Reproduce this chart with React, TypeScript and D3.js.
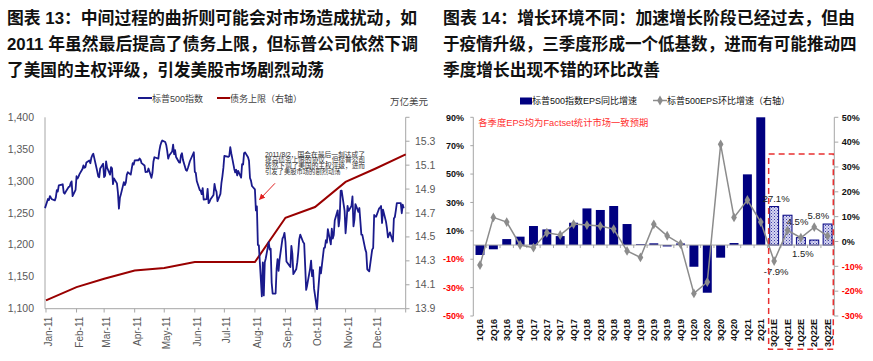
import React from 'react';
import * as d3 from 'd3';

const FONT = "'Liberation Sans', 'Noto Sans CJK SC', sans-serif";

const titleLeft = [
  '图表 13：中间过程的曲折则可能会对市场造成扰动，如',
  '2011 年虽然最后提高了债务上限，但标普公司依然下调',
  '了美国的主权评级，引发美股市场剧烈动荡',
];
const titleRight = [
  '图表 14：增长环境不同：加速增长阶段已经过去，但由',
  '于疫情升级，三季度形成一个低基数，进而有可能推动四',
  '季度增长出现不错的环比改善',
];
const titleLeftWidths = [410, 411, 0];
const titleRightWidths = [412, 413.5, 0];

// ---------- Left chart data ----------
const spxDates = [
  '2010-12-31',
  '2011-01-03','2011-01-04','2011-01-05','2011-01-06','2011-01-07','2011-01-10','2011-01-11','2011-01-12','2011-01-13','2011-01-14','2011-01-18','2011-01-19','2011-01-20','2011-01-21','2011-01-24','2011-01-25','2011-01-26','2011-01-27','2011-01-28','2011-01-31',
  '2011-02-01','2011-02-02','2011-02-03','2011-02-04','2011-02-07','2011-02-08','2011-02-09','2011-02-10','2011-02-11','2011-02-14','2011-02-15','2011-02-16','2011-02-17','2011-02-18','2011-02-22','2011-02-23','2011-02-24','2011-02-25','2011-02-28',
  '2011-03-01','2011-03-02','2011-03-03','2011-03-04','2011-03-07','2011-03-08','2011-03-09','2011-03-10','2011-03-11','2011-03-14','2011-03-15','2011-03-16','2011-03-17','2011-03-18','2011-03-21','2011-03-22','2011-03-23','2011-03-24','2011-03-25','2011-03-28','2011-03-29','2011-03-30','2011-03-31',
  '2011-04-01','2011-04-04','2011-04-05','2011-04-06','2011-04-07','2011-04-08','2011-04-11','2011-04-12','2011-04-13','2011-04-14','2011-04-15','2011-04-18','2011-04-19','2011-04-20','2011-04-21','2011-04-25','2011-04-26','2011-04-27','2011-04-28','2011-04-29',
  '2011-05-02','2011-05-03','2011-05-04','2011-05-05','2011-05-06','2011-05-09','2011-05-10','2011-05-11','2011-05-12','2011-05-13','2011-05-16','2011-05-17','2011-05-18','2011-05-19','2011-05-20','2011-05-23','2011-05-24','2011-05-25','2011-05-26','2011-05-27','2011-05-31',
  '2011-06-01','2011-06-02','2011-06-03','2011-06-06','2011-06-07','2011-06-08','2011-06-09','2011-06-10','2011-06-13','2011-06-14','2011-06-15','2011-06-16','2011-06-17','2011-06-20','2011-06-21','2011-06-22','2011-06-23','2011-06-24','2011-06-27','2011-06-28','2011-06-29','2011-06-30',
  '2011-07-01','2011-07-05','2011-07-06','2011-07-07','2011-07-08','2011-07-11','2011-07-12','2011-07-13','2011-07-14','2011-07-15','2011-07-18','2011-07-19','2011-07-20','2011-07-21','2011-07-22','2011-07-25','2011-07-26','2011-07-27','2011-07-28','2011-07-29',
  '2011-08-01','2011-08-02','2011-08-03','2011-08-04','2011-08-05','2011-08-08','2011-08-09','2011-08-10','2011-08-11','2011-08-12','2011-08-15','2011-08-16','2011-08-17','2011-08-18','2011-08-19','2011-08-22','2011-08-23','2011-08-24','2011-08-25','2011-08-26','2011-08-29','2011-08-30','2011-08-31',
  '2011-09-01','2011-09-02','2011-09-06','2011-09-07','2011-09-08','2011-09-09','2011-09-12','2011-09-13','2011-09-14','2011-09-15','2011-09-16','2011-09-19','2011-09-20','2011-09-21','2011-09-22','2011-09-23','2011-09-26','2011-09-27','2011-09-28','2011-09-29','2011-09-30',
  '2011-10-03','2011-10-04','2011-10-05','2011-10-06','2011-10-07','2011-10-10','2011-10-11','2011-10-12','2011-10-13','2011-10-14','2011-10-17','2011-10-18','2011-10-19','2011-10-20','2011-10-21','2011-10-24','2011-10-25','2011-10-26','2011-10-27','2011-10-28','2011-10-31',
  '2011-11-01','2011-11-02','2011-11-03','2011-11-04','2011-11-07','2011-11-08','2011-11-09','2011-11-10','2011-11-11','2011-11-14','2011-11-15','2011-11-16','2011-11-17','2011-11-18','2011-11-21','2011-11-22','2011-11-23','2011-11-25','2011-11-28','2011-11-29','2011-11-30',
  '2011-12-01','2011-12-02','2011-12-05','2011-12-06','2011-12-07','2011-12-08','2011-12-09','2011-12-12','2011-12-13','2011-12-14','2011-12-15','2011-12-16','2011-12-19','2011-12-20','2011-12-21','2011-12-22','2011-12-23','2011-12-27','2011-12-28','2011-12-29','2011-12-30',
];
const spxClose = [
  1257.64,
  1271.87,1270.2,1276.56,1273.85,1271.5,1269.75,1274.48,1285.96,1283.76,1293.24,1295.02,1281.92,1280.26,1283.35,1290.84,1291.18,1296.63,1299.54,1276.34,1286.12,
  1307.59,1304.03,1307.1,1310.87,1319.05,1324.57,1320.88,1321.87,1329.15,1332.32,1328.01,1336.32,1340.43,1343.01,1315.44,1307.4,1306.1,1319.88,1327.22,
  1306.33,1308.44,1330.97,1321.15,1310.13,1321.82,1320.02,1295.11,1304.28,1296.39,1281.87,1256.88,1273.72,1279.21,1298.38,1293.77,1297.54,1309.66,1313.8,1310.19,1319.44,1328.26,1325.83,
  1332.41,1332.87,1332.63,1335.54,1333.51,1328.17,1324.46,1314.16,1314.41,1314.52,1319.68,1305.14,1312.62,1330.36,1337.38,1335.25,1347.24,1355.66,1360.48,1363.61,
  1361.22,1356.62,1347.32,1335.1,1340.2,1346.29,1357.16,1342.08,1348.65,1337.77,1329.47,1328.98,1340.68,1343.6,1333.27,1317.37,1316.28,1320.47,1325.69,1331.1,1345.2,
  1314.55,1312.94,1300.16,1286.17,1284.94,1279.56,1289.0,1270.98,1271.83,1287.87,1265.42,1267.64,1271.5,1278.36,1295.52,1287.14,1283.5,1268.45,1280.1,1296.67,1307.41,1320.64,
  1339.67,1337.88,1339.22,1353.22,1343.8,1319.49,1313.64,1317.72,1308.87,1316.14,1305.44,1326.73,1325.84,1343.8,1345.02,1337.43,1331.94,1304.89,1300.67,1292.28,
  1286.94,1254.05,1260.34,1200.07,1199.38,1119.46,1172.53,1120.76,1172.64,1178.81,1204.49,1192.76,1193.89,1140.65,1123.53,1123.82,1162.35,1177.6,1159.27,1176.8,1210.08,1212.92,1218.89,
  1204.42,1173.97,1165.24,1198.62,1185.9,1154.23,1162.27,1172.87,1188.68,1209.11,1216.01,1204.09,1202.09,1166.76,1129.56,1136.43,1162.95,1175.38,1151.06,1160.4,1131.42,
  1099.23,1123.95,1144.03,1164.97,1155.46,1194.89,1195.54,1207.25,1203.66,1224.58,1200.86,1225.38,1209.88,1215.39,1238.25,1254.19,1229.05,1242.0,1284.59,1285.09,1253.3,
  1218.28,1237.9,1261.15,1253.23,1261.12,1275.92,1229.1,1239.7,1263.85,1251.78,1257.81,1236.91,1216.13,1215.65,1192.98,1188.04,1161.79,1158.67,1192.55,1195.19,1246.96,
  1244.58,1244.28,1257.08,1258.47,1261.01,1234.35,1255.19,1236.47,1225.73,1211.82,1215.75,1219.66,1205.35,1241.3,1243.72,1254.0,1265.33,1265.43,1249.64,1263.02,1257.6,
];
const debtDates = ['2011-01-01','2011-02-01','2011-03-01','2011-04-01','2011-05-01','2011-06-01','2011-07-01','2011-08-01','2011-09-01','2011-10-01','2011-11-01','2011-12-01','2012-01-01'];
const debtValues = [13.97, 14.08, 14.15, 14.22, 14.24, 14.29, 14.29, 14.29, 14.66, 14.75, 14.96, 15.07, 15.19];
const leftTicks = [1100, 1150, 1200, 1250, 1300, 1350, 1400];
const leftTickLabels = ['1,100', '1,150', '1,200', '1,250', '1,300', '1,350', '1,400'];
const debtTicks = [13.9, 14.1, 14.3, 14.5, 14.7, 14.9, 15.1, 15.3, 15.5];
const monthStarts = ['2011-01-01','2011-02-01','2011-03-01','2011-04-01','2011-05-01','2011-06-01','2011-07-01','2011-08-01','2011-09-01','2011-10-01','2011-11-01','2011-12-01','2012-01-01'];
const monthLabels = ['Jan-11','Feb-11','Mar-11','Apr-11','May-11','Jun-11','Jul-11','Aug-11','Sep-11','Oct-11','Nov-11','Dec-11'];
const annotationLines = [
  '2011/8/2，国会在最后一刻达成了',
  '提高债务上限的协议，但标普公司',
  '依然下调了美国的主权评级，进而',
  '引发了美股市场的剧烈动荡',
];

// ---------- Right chart data ----------
const quarters = ['1Q16','2Q16','3Q16','4Q16','1Q17','2Q17','3Q17','4Q17','1Q18','2Q18','3Q18','4Q18','1Q19','2Q19','3Q19','4Q19','1Q20','2Q20','3Q20','4Q20','1Q21','2Q21','3Q21E','4Q21E','1Q22E','2Q22E','3Q22E'];
const epsYoY = [-7.0,-3.0,4.2,5.9,13.4,11.0,6.3,15.7,25.8,24.7,27.5,14.8,0.6,1.2,-1.0,1.1,-15.3,-33.6,-8.9,1.4,49.8,90.0,27.1,21.0,5.2,3.5,14.8];
const epsQoQ = [-9.5,9.7,7.8,-1.4,-2.5,3.5,2.6,7.0,6.6,6.2,5.0,-3.8,-6.4,6.9,2.3,-1.0,-20.9,-16.3,39.1,9.7,16.7,7.8,-7.9,4.5,1.5,5.8,2.2];
const barTicks = [-50, -30, -10, 10, 30, 50, 70, 90];
const lineTicks = [-30, -20, -10, 0, 10, 20, 30, 40, 50];
// labels: [quarter, series, dx, dy]
const dataLabels: [string, 'bar' | 'line', number, number][] = [
  ['3Q21E', 'bar', 2, -5],
  ['3Q21E', 'line', 2, 14],
  ['4Q21E', 'line', 10, -5],
  ['1Q22E', 'line', 2, 19],
  ['2Q22E', 'line', 4, -8],
];

const parse = d3.timeParse('%Y-%m-%d');

export default function App() {
  // Left chart scales
  const xL = d3.scaleTime().domain([parse('2010-12-31')!, parse('2012-01-01')!]).range([45, 405.7]);
  const yL = d3.scaleLinear().domain([1100, 1400]).range([308.7, 117.3]);
  const yD = d3.scaleLinear().domain([13.9, 15.5]).range([308.7, 117.3]);
  const spx = spxDates.map((d, i) => ({ d: parse(d)!, v: spxClose[i] }));
  const debt = debtDates.map((d, i) => ({ d: parse(d)!, v: debtValues[i] }));
  const spxLine = d3.line<{ d: Date; v: number }>().x(p => xL(p.d)).y(p => yL(p.v))(spx)!;
  const debtLine = d3.line<{ d: Date; v: number }>().x(p => xL(p.d)).y(p => yD(p.v))(debt)!;

  // Right chart scales
  const xB = d3.scaleBand().domain(quarters).range([473.3, 834.3]).paddingInner(0.33).paddingOuter(0.165);
  const step = xB.step();
  const x0 = 473.3;
  const yB = d3.scaleLinear().domain([-50, 90]).range([316, 117.3]);
  const yQ = d3.scaleLinear().domain([-30, 50]).range([316, 117.3]);
  const cx = (q: string) => xB(q)! + xB.bandwidth() / 2;
  const qoqLine = d3.line<number>().x((_, i) => cx(quarters[i])).y(v => yQ(v))(epsQoQ)!;
  const diamond = d3.symbol().type(d3.symbolDiamond).size(28)()!;
  const firstE = quarters.findIndex(q => q.endsWith('E'));

  const gray = '#595959';
  const axisGray = '#a6a6a6';

  return (
    <svg width={873} height={361} style={{ position: 'absolute', left: 0, top: 0, background: '#fff' }} fontFamily={FONT}>
      <defs>
        <pattern id="dots" width={3} height={3} patternUnits="userSpaceOnUse">
          <rect width={3} height={3} fill="#d6d6f2" />
          <rect width={1} height={1} fill="#4040a8" />
          <rect x={1.5} y={1.5} width={1} height={1} fill="#6a6ac0" />
        </pattern>
        <marker id="arrow" viewBox="0 0 10 10" refX={9} refY={5} markerWidth={6} markerHeight={6} orient="auto">
          <path d="M0,0 L10,5 L0,10 z" fill="#e02020" />
        </marker>
      </defs>
      <rect width={873} height={361} fill="#fff" />

      {/* Titles */}
      {titleLeft.map((t, i) => (
        <text key={'tl' + i} x={7} y={24 + i * 26} fontSize={16.7} fontWeight="bold" fill="#111"
          {...(titleLeftWidths[i] ? { textLength: titleLeftWidths[i], lengthAdjust: 'spacingAndGlyphs' } : {})}>{t}</text>
      ))}
      {titleRight.map((t, i) => (
        <text key={'tr' + i} x={443} y={24 + i * 26} fontSize={16.7} fontWeight="bold" fill="#111"
          {...(titleRightWidths[i] ? { textLength: titleRightWidths[i], lengthAdjust: 'spacingAndGlyphs' } : {})}>{t}</text>
      ))}

      {/* ===== Left chart ===== */}
      <g>
        {/* legend */}
        <line x1={138} x2={152} y1={98} y2={98} stroke="#1a1a8c" strokeWidth={2} />
        <text x={152} y={101.5} fontSize={9} fill="#404040">标普500指数</text>
        <line x1={217} x2={230} y1={98} y2={98} stroke="#990000" strokeWidth={2} />
        <text x={230} y={101.5} fontSize={9} fill="#404040">债务上限（右轴）</text>
        <text x={390} y={105} fontSize={9.5} fill="#404040">万亿美元</text>

        {/* axes */}
        <line x1={45} x2={45} y1={117.3} y2={308.7} stroke={axisGray} />
        <line x1={405.7} x2={405.7} y1={117.3} y2={308.7} stroke={axisGray} />
        <line x1={45} x2={405.7} y1={308.7} y2={308.7} stroke={axisGray} />
        {leftTicks.map((t, i) => (
          <g key={'lt' + i}>
            <text x={34} y={yL(t) + 3.5} fontSize={10.5} fill={gray} textAnchor="end">{leftTickLabels[i]}</text>
          </g>
        ))}
        {debtTicks.map((t, i) => (
          <g key={'dt' + i}>
            <line x1={405.7} x2={409.5} y1={yD(t)} y2={yD(t)} stroke={axisGray} />
            {t < 15.4 && <text x={415} y={yD(t) + 3.5} fontSize={10.5} fill={gray}>{t.toFixed(1)}</text>}
          </g>
        ))}
        {monthStarts.map((m, i) => {
          const x = xL(parse(m)!);
          return (
            <g key={'mt' + i}>
              <line x1={x} x2={x} y1={308.7} y2={312.5} stroke={axisGray} />
              {i < monthLabels.length && (
                <text transform={`translate(${x + 6},${316.7}) rotate(-90)`} fontSize={10} fill={gray} textAnchor="end">{monthLabels[i]}</text>
              )}
            </g>
          );
        })}

        {/* series */}
        <path d={debtLine} fill="none" stroke="#990000" strokeWidth={2} />
        <path d={spxLine} fill="none" stroke="#1a1a8c" strokeWidth={1.8} strokeLinejoin="round" />

        {/* annotation */}
        {annotationLines.map((t, i) => (
          <text key={'an' + i} x={265} y={156.5 + i * 5.8} fontSize={6.3} fill="#333"
            {...(i < 3 ? { textLength: 100, lengthAdjust: 'spacingAndGlyphs' } : {})}>{t}</text>
        ))}
        <line x1={275} y1={183.3} x2={259.5} y2={199.5} stroke="#e02020" strokeWidth={1} markerEnd="url(#arrow)" />
      </g>

      {/* ===== Right chart ===== */}
      <g>
        {/* legend */}
        <rect x={520} y={97.5} width={12} height={7} fill="#000080" />
        <text x={532} y={104} fontSize={9} fill="#111">标普500指数EPS同比增速</text>
        <line x1={653} x2={667} y1={100.5} y2={100.5} stroke="#8c8c8c" strokeWidth={1.5} />
        <path d={diamond} transform="translate(660,100.5)" fill="#8c8c8c" />
        <text x={667} y={104} fontSize={9} fill="#111">标普500EPS环比增速（右轴）</text>

        <text x={478.3} y={126} fontSize={9.3} fill="#ff3030">各季度EPS均为Factset统计市场一致预期</text>

        {/* axes */}
        <line x1={x0} x2={x0} y1={117.3} y2={316} stroke={axisGray} />
        <line x1={834.3} x2={834.3} y1={117.3} y2={316} stroke={axisGray} />
        {barTicks.map(t => (
          <g key={'bt' + t}>
            <line x1={x0 - 3} x2={x0} y1={yB(t)} y2={yB(t)} stroke={axisGray} />
            <text x={464} y={yB(t) + 3.2} fontSize={9} fontWeight="bold" fill={t < 0 ? '#ff0000' : '#111'} textAnchor="end">{t}%</text>
          </g>
        ))}
        {lineTicks.map(t => (
          <g key={'qt' + t}>
            <line x1={834.3} x2={838.3} y1={yQ(t)} y2={yQ(t)} stroke={axisGray} />
            <text x={841.7} y={yQ(t) + 3.2} fontSize={9} fontWeight="bold" fill={t < 0 ? '#ff0000' : '#111'}>{t}%</text>
          </g>
        ))}

        {/* bars */}
        {quarters.map((q, i) => {
          const v = epsYoY[i];
          const est = q.endsWith('E');
          return (
            <rect key={'b' + q} x={xB(q)!} width={xB.bandwidth()} y={Math.min(yB(v), yB(0))} height={Math.abs(yB(v) - yB(0))}
              fill={est ? 'url(#dots)' : '#000080'} stroke={est ? '#000080' : 'none'} strokeWidth={1} />
          );
        })}

        {/* category axis */}
        <line x1={x0} x2={834.3} y1={yB(0)} y2={yB(0)} stroke={axisGray} />
        {quarters.map((q, i) => (
          <g key={'c' + q}>
            <line x1={x0 + (i + 1) * step} x2={x0 + (i + 1) * step} y1={yB(0)} y2={yB(0) + 3} stroke={axisGray} />
            <text transform={`translate(${cx(q) + 3.2},${319}) rotate(-90)`} fontSize={9} fontWeight="bold" fill="#111" textAnchor="end">{q}</text>
          </g>
        ))}

        {/* line */}
        <path d={qoqLine} fill="none" stroke="#8c8c8c" strokeWidth={1.5} />
        {epsQoQ.map((v, i) => (
          <path key={'m' + i} d={diamond} transform={`translate(${cx(quarters[i])},${yQ(v)})`} fill="#8c8c8c" />
        ))}

        {/* data labels */}
        {dataLabels.map(([q, s, dx, dy], i) => {
          const idx = quarters.indexOf(q);
          const v = s === 'bar' ? epsYoY[idx] : epsQoQ[idx];
          const y = s === 'bar' ? yB(v) : yQ(v);
          return (
            <text key={'dl' + i} x={cx(q) + dx} y={y + dy} fontSize={9.5} fill="#222" textAnchor="middle">{v.toFixed(1)}%</text>
          );
        })}

        {/* forecast box */}
        <rect x={xB(quarters[firstE])! - 1} y={154} width={834.3 - 1 - (xB(quarters[firstE])! - 1)} height={195.3}
          fill="none" stroke="#e83030" strokeWidth={1.5} strokeDasharray="6,4" />
      </g>
    </svg>
  );
}
